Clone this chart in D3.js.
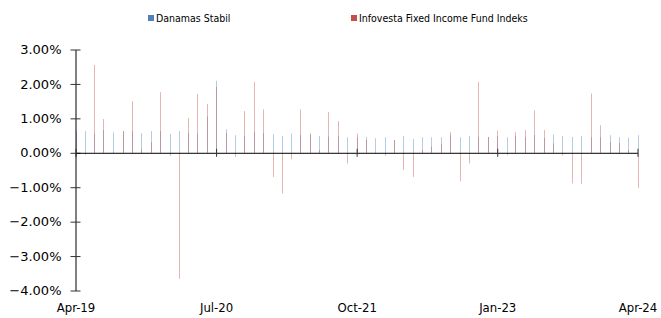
<!DOCTYPE html>
<html>
<head>
<meta charset="UTF-8">
<script src="https://d3js.org/d3.v7.min.js"></script>
<style>
  body { margin: 0; background: #fff; }
  svg { display: block; }
  text { fill: #000; }
</style>
</head>
<body>
<div id="chart"></div>
<script>
// monthly returns (%) Apr-19 .. Apr-24
const seriesNames = ["Danamas Stabil", "Infovesta Fixed Income Fund Indeks"];
const danamas = [
  0.63, 0.63, 0.55, 0.66, 0.59, 0.63, 0.63, 0.57, 0.63, 0.63, 0.55, 0.63,
  0.57, 0.55, 1.05, 2.09, 0.68, 0.51, 0.49, 0.60, 0.57, 0.54, 0.49, 0.56,
  0.52, 0.52, 0.49, 0.47, 0.48, 0.45, 0.44, 0.46, 0.42, 0.45, 0.37, 0.49,
  0.40, 0.45, 0.45, 0.45, 0.51, 0.45, 0.49, 0.45, 0.46, 0.48, 0.45, 0.49,
  0.45, 0.52, 0.43, 0.53, 0.49, 0.46, 0.49, 0.45, 0.45, 0.51, 0.45, 0.44,
  0.51
];
const infovesta = [
  -0.13, -0.06, 2.55, 0.98, 0.02, 0.63, 1.50, 0.10, 0.31, 1.76, -0.09, -3.66,
  1.02, 1.71, 1.42, 1.91, 0.57, -0.12, 1.21, 2.06, 1.26, -0.70, -1.18, -0.19,
  1.26, 0.57, 0.08, 1.18, 0.92, -0.31, 0.56, 0.37, -0.03, -0.09, 0.37, -0.50,
  -0.70, 0.08, 0.17, 0.26, 0.60, -0.83, -0.31, 2.06, 0.46, 0.64, -0.07, 0.60,
  0.66, 1.23, 0.66, 0.27, -0.08, -0.89, -0.90, 1.72, 0.80, 0.31, 0.28, 0.08,
  -1.02
];
const months = d3.timeMonth.range(new Date(2019, 3, 1), new Date(2024, 4, 1));
const yTicks = [3, 2, 1, 0, -1, -2, -3, -4];
const xTickDates = [new Date(2019, 3, 1), new Date(2020, 6, 1), new Date(2021, 9, 1), new Date(2023, 0, 1), new Date(2024, 3, 1)];
const xTickLabels = ["Apr-19", "Jul-20", "Oct-21", "Jan-23", "Apr-24"];

const width = 661, height = 318;
const svg = d3.select("#chart").append("svg")
  .attr("width", width)
  .attr("height", height);

const x = d3.scaleTime()
  .domain([months[0], months[months.length - 1]])
  .range([75.5, 637.5]);
const y = d3.scaleLinear()
  .domain([-4, 3])
  .range([290.5, 49.5]);

// bars: blue first, red on top, same 1px column
const bars = svg.append("g");
bars.selectAll(".b1")
  .data(danamas)
  .join("rect")
  .attr("x", (d, i) => Math.round(x(months[i])))
  .attr("y", d => Math.min(y(d), y(0)))
  .attr("width", 1)
  .attr("height", d => Math.abs(y(d) - y(0)))
  .attr("fill", "#4F81BD")
  .attr("fill-opacity", 0.42);
bars.selectAll(".b2")
  .data(infovesta)
  .join("rect")
  .attr("x", (d, i) => Math.round(x(months[i])))
  .attr("y", d => Math.min(y(d), y(0)))
  .attr("width", 1)
  .attr("height", d => Math.abs(y(d) - y(0)))
  .attr("fill", "#C0504D")
  .attr("fill-opacity", 0.42);

// y axis
const yAxis = d3.axisLeft(y)
  .tickValues(yTicks)
  .tickFormat(d => d3.format(".2f")(d) + "%")
  .tickSizeInner(5)
  .tickSizeOuter(0)
  .tickPadding(9);
const gy = svg.append("g")
  .attr("transform", "translate(75.5,0)")
  .call(yAxis);
gy.select(".domain").attr("stroke", "#000");
gy.selectAll(".tick line").attr("x1", -5).attr("x2", 5).attr("stroke", "#333");
gy.selectAll(".tick text")
  .attr("font-family", "DejaVu Sans")
  .attr("font-size", 13)
  .attr("fill", "#000");

// x axis on the zero line, labels at the bottom
const xAxis = d3.axisBottom(x)
  .tickValues(xTickDates)
  .tickFormat((d, i) => xTickLabels[i])
  .tickSizeInner(0)
  .tickSizeOuter(0);
const gx = svg.append("g")
  .attr("transform", `translate(0,${y(0)})`)
  .call(xAxis);
gx.select(".domain").attr("stroke", "#000").attr("stroke-width", 1);
gx.selectAll(".tick line").attr("y1", -4).attr("y2", 4).attr("stroke", "#333");
gx.selectAll(".tick text")
  .attr("y", 0)
  .attr("dy", 0)
  .attr("transform", `translate(0,${312 - y(0)})`)
  .attr("font-family", "DejaVu Sans Condensed")
  .attr("font-size", 13)
  .attr("fill", "#000");

// legend
const legendX = [148, 351];
const legendColors = ["#4F81BD", "#C0504D"];
const lg = svg.append("g");
seriesNames.forEach((name, i) => {
  lg.append("rect")
    .attr("x", legendX[i]).attr("y", 15)
    .attr("width", 6).attr("height", 6)
    .attr("fill", legendColors[i]);
  lg.append("text")
    .attr("x", legendX[i] + 8).attr("y", 22)
    .attr("font-family", "DejaVu Sans Condensed")
    .attr("font-size", 10.5)
    .text(name);
});
</script>
</body>
</html>
